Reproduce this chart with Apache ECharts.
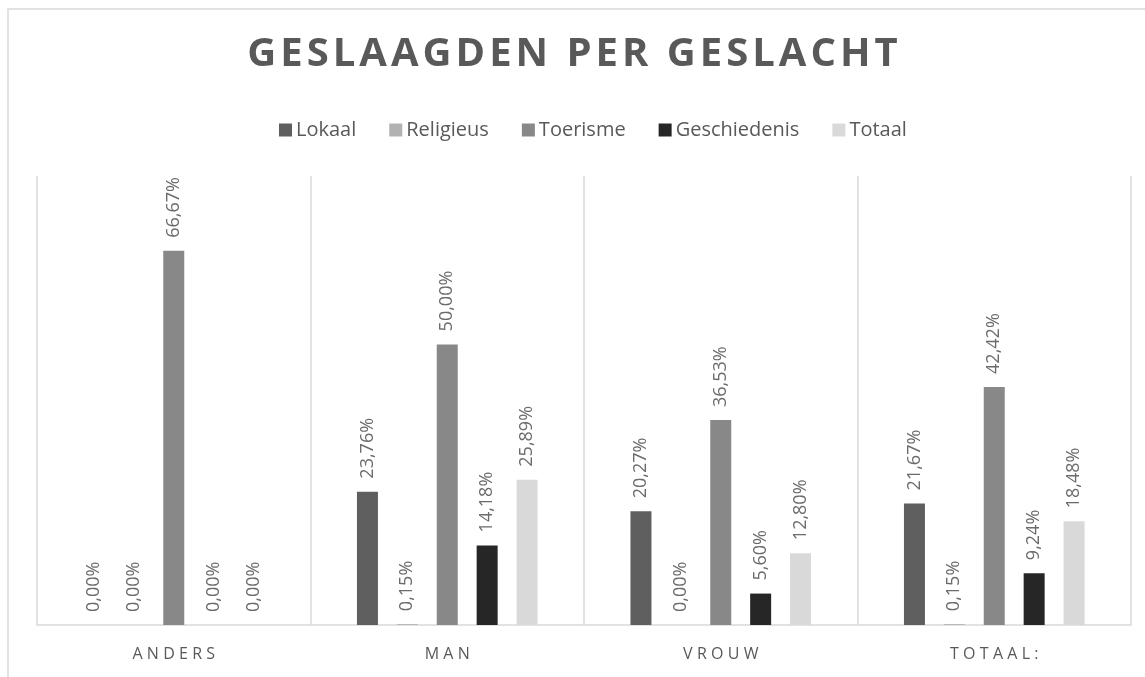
<!DOCTYPE html>
<html lang="nl">

<head>
  <meta charset="UTF-8">
  <title>Geslaagden per geslacht</title>
  <script src="https://cdn.jsdelivr.net/npm/echarts@6/dist/echarts.min.js"></script>
  <style>
    html, body { margin: 0; padding: 0; background: #fff; }
  </style>
</head>

<body>
  <div id="chart" style="width: 1145px; height: 677px;"></div>
</body>
<script>
  // categorieën en reeksen
  const categories = ['ANDERS', 'MAN', 'VROUW', 'TOTAAL:']
  const seriesNames = ['Lokaal', 'Religieus', 'Toerisme', 'Geschiedenis', 'Totaal']
  const lokaal = [0, 23.76, 20.27, 21.67]
  const religieus = [0, 0.15, 0, 0.15]
  const toerisme = [66.67, 50.00, 36.53, 42.42]
  const geschiedenis = [0, 14.18, 5.60, 9.24]
  const totaal = [0, 25.89, 12.80, 18.48]
  const colors = ['#5f5f5f', '#b2b2b2', '#888888', '#262626', '#d9d9d9']

  // letters iets uit elkaar zetten (zoals in Excel)
  const spaced = (s, sp) => s.split('').join(sp)

  let myCharts = echarts.init(document.getElementById('chart'))
  let values = [lokaal, religieus, toerisme, geschiedenis, totaal]

  let option = {
    textStyle: { fontFamily: 'Open Sans' },
    title: {
      text: spaced('GESLAAGDEN PER GESLACHT', '\u200A'),
      left: 'center',
      top: 30,
      textStyle: { fontSize: 40, fontWeight: 'bold', color: '#595959', fontFamily: 'Open Sans' }
    },
    legend: {
      top: 115,
      left: 274,
      icon: 'rect',
      itemWidth: 13,
      itemHeight: 13,
      itemGap: 33,
      textStyle: { fontSize: 20, color: '#595959', padding: [0, 0, 0, -1] },
      data: seriesNames
    },
    graphic: [{
      type: 'rect',
      shape: { x: 8, y: 9, width: 1200, height: 700 },
      style: { fill: 'none', stroke: '#d9d9d9', lineWidth: 1.5 },
      silent: true
    }],
    grid: { left: 37, right: 14, top: 176, bottom: 52, containLabel: false },
    xAxis: {
      type: 'category',
      data: categories,
      axisLine: { lineStyle: { color: '#d9d9d9', width: 1.5 } },
      axisTick: { show: false },
      splitLine: { show: true, lineStyle: { color: '#d9d9d9', width: 1.5 } },
      axisLabel: {
        margin: 21,
        fontSize: 16,
        color: '#595959',
        formatter: v => spaced(v, '\u2009\u200A')
      }
    },
    yAxis: {
      type: 'value',
      min: 0,
      max: 80,
      show: false,
      splitLine: { show: false }
    },
    series: seriesNames.map((name, i) => ({
      name: name,
      type: 'bar',
      data: values[i],
      barWidth: 21,
      barGap: '90%',
      itemStyle: { color: colors[i] },
      label: {
        show: true,
        position: 'top',
        rotate: 90,
        align: 'left',
        verticalAlign: 'middle',
        distance: 13,
        fontSize: 18,
        color: '#6b6b6b',
        formatter: p => p.value.toFixed(2).replace('.', ',') + '%'
      }
    }))
  }
  myCharts.setOption(option)
</script>

</html>
